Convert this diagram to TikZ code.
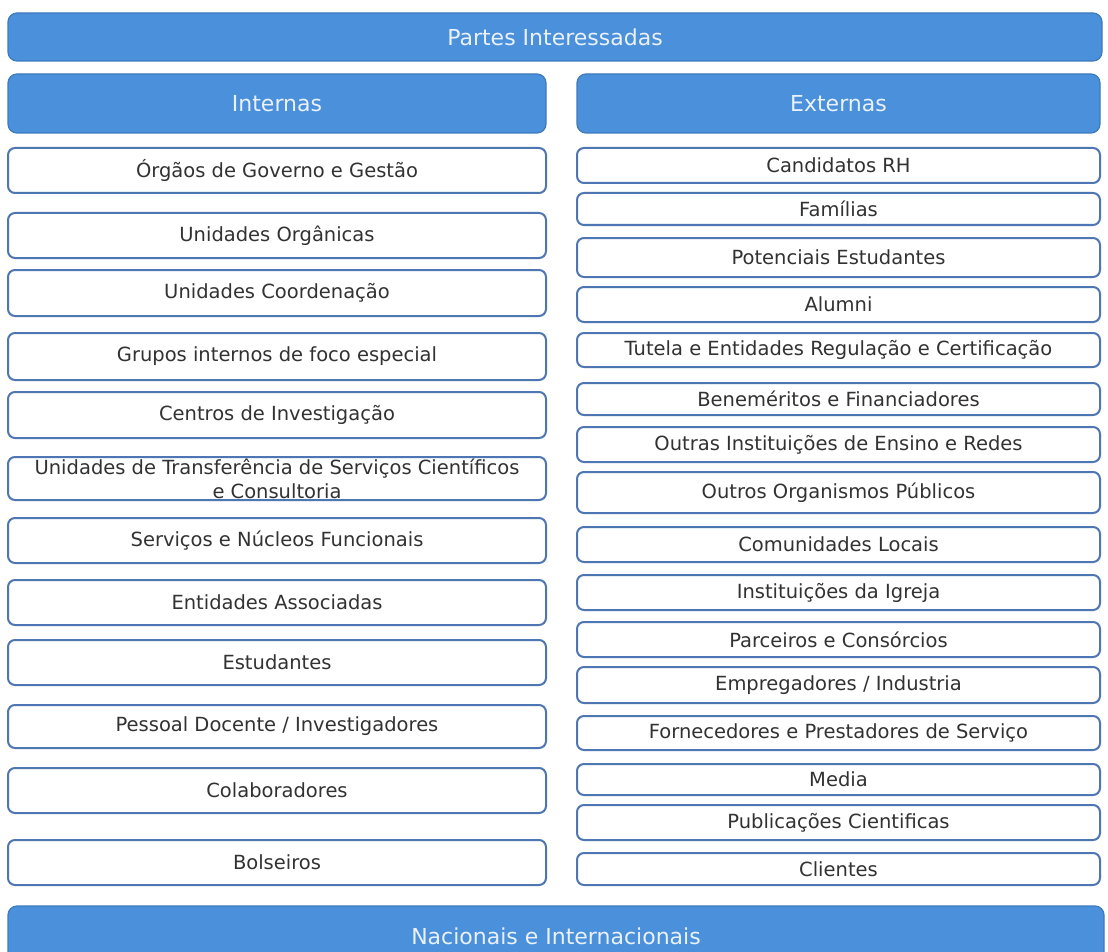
\documentclass[tikz,border=0pt]{standalone}
\usepackage{fontspec}
\setmainfont{DejaVu Sans}
\definecolor{barblue}{RGB}{74,144,218}
\definecolor{barline}{RGB}{62,122,190}
\definecolor{boxline}{RGB}{78,118,178}
\definecolor{txt}{RGB}{50,50,50}
\definecolor{hdrtxt}{RGB}{234,241,250}
\begin{document}
\begin{tikzpicture}[x=1pt,y=-1pt,
  bar/.style={draw=barline,line width=1.2pt,fill=barblue,rounded corners=9pt,text=hdrtxt,font=\fontsize{22}{26}\selectfont,inner sep=0pt},
  item/.style={draw=boxline,line width=2pt,fill=white,rounded corners=7pt,text=txt,font=\fontsize{19.5}{24}\selectfont,inner sep=0pt,align=center},
  lcol/.style={item,minimum width=538pt,minimum height=#1},
  rcol/.style={item,minimum width=523pt,minimum height=#1}]
\useasboundingbox (0,0) rectangle (1108,952);
\clip (0,0) rectangle (1108,952);
\fill[white] (0,0) rectangle (1108,952);
% top and headers
\node[bar,minimum width=1094pt,minimum height=48pt] (top) at (555,37) {Partes Interessadas};
\node[bar,minimum width=538pt,minimum height=59pt] (int) at (277,103.5) {Internas};
\node[bar,minimum width=523pt,minimum height=59pt] (ext) at (838.5,103.5) {Externas};
% left column
\node[lcol=45pt] (l1) at (277,170.5) {Órgãos de Governo e Gestão};
\node[lcol=45pt] (l2) at (277,235.5) {Unidades Orgânicas};
\node[lcol=46pt] (l3) at (277,293) {Unidades Coordenação};
\node[lcol=47pt] (l4) at (277,356.5) {Grupos internos de foco especial};
\node[lcol=46pt] (l5) at (277,415) {Centros de Investigação};
\node[lcol=43pt] (l6) at (277,478.5) {Unidades de Transferência de Serviços Científicos\\e Consultoria};
\node[lcol=45pt] (l7) at (277,540.5) {Serviços e Núcleos Funcionais};
\node[lcol=45pt] (l8) at (277,602.5) {Entidades Associadas};
\node[lcol=45pt] (l9) at (277,662.5) {Estudantes};
\node[lcol=43pt] (l10) at (277,726.5) {Pessoal Docente / Investigadores};
\node[lcol=45pt] (l11) at (277,790.5) {Colaboradores};
\node[lcol=45pt] (l12) at (277,862.5) {Bolseiros};
% right column
\node[rcol=35pt] (r1) at (838.5,165.5) {Candidatos RH};
\node[rcol=32pt] (r2) at (838.5,209) {Famílias};
\node[rcol=39pt] (r3) at (838.5,257.5) {Potenciais Estudantes};
\node[rcol=35pt] (r4) at (838.5,304.5) {Alumni};
\node[rcol=34pt] (r5) at (838.5,350) {Tutela e Entidades Regulação e Certificação};
\node[rcol=32pt] (r6) at (838.5,399) {Beneméritos e Financiadores};
\node[rcol=35pt] (r7) at (838.5,444.5) {Outras Instituições de Ensino e Redes};
\node[rcol=41pt] (r8) at (838.5,492.5) {Outros Organismos Públicos};
\node[rcol=35pt] (r9) at (838.5,544.5) {Comunidades Locais};
\node[rcol=35pt] (r10) at (838.5,592.5) {Instituições da Igreja};
\node[rcol=35pt] (r11) at (838.5,639.5) {Parceiros e Consórcios};
\node[rcol=36pt] (r12) at (838.5,685) {Empregadores / Industria};
\node[rcol=34pt] (r13) at (838.5,733) {Fornecedores e Prestadores de Serviço};
\node[rcol=31pt] (r14) at (838.5,779.5) {Media};
\node[rcol=35pt] (r15) at (838.5,822.5) {Publicações Cientificas};
\node[rcol=32pt] (r16) at (838.5,869) {Clientes};
% bottom bar
\node[bar,minimum width=1096pt,minimum height=60pt] (bot) at (556,936) {Nacionais e Internacionais};
\end{tikzpicture}
\end{document}
